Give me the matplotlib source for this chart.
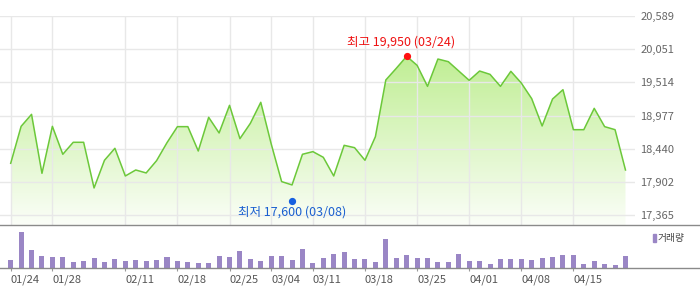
import numpy as np
import matplotlib
matplotlib.use("Agg")
import matplotlib.pyplot as plt
from matplotlib.colors import LinearSegmentedColormap
from matplotlib.patches import Rectangle

plt.rcParams['font.family'] = ['Noto Sans CJK KR', 'DejaVu Sans']

# Daily closing prices (60 sessions)
close = [
    18206, 18804, 18998, 18044, 18804, 18352, 18546, 18546, 17807, 18255,
    18449, 18001, 18098, 18050, 18249, 18540, 18799, 18799, 18405, 18950,
    18697, 19144, 18605, 18853, 19193, 18520, 17910, 17856, 18352, 18395,
    18303, 18001, 18497, 18459, 18255, 18637, 19554, 19742, 19937, 19791,
    19451, 19893, 19850, 19699, 19548, 19699, 19645, 19451, 19694, 19505,
    19252, 18810, 19246, 19397, 18750, 18750, 19095, 18799, 18750, 18098,
]

# Daily traded volume (thousand shares)
volume = [
    25, 110, 55, 37, 34, 34, 19, 22, 31, 19,
    28, 22, 25, 22, 25, 34, 22, 19, 16, 16,
    37, 34, 52, 28, 22, 37, 37, 25, 58, 16,
    31, 43, 49, 28, 28, 19, 88, 31, 40, 31,
    31, 19, 19, 43, 22, 22, 13, 28, 28, 28,
    25, 31, 34, 40, 40, 13, 22, 13, 10, 37,
]

tick_idx = [0, 4, 11, 16, 21, 25, 29, 34, 39, 44, 49, 54]
tick_labels = ["01/24", "01/28", "02/11", "02/18", "02/25", "03/04",
               "03/11", "03/18", "03/25", "04/01", "04/08", "04/15"]

price_ticks = [17365, 17902, 18440, 18977, 19514, 20051, 20589]

hi_idx, hi_val, hi_date = 38, 19950, "03/24"
lo_idx, lo_val, lo_date = 27, 17600, "03/08"

x = np.arange(len(close))

W, H = 700, 289
fig = plt.figure(figsize=(W / 100, H / 100), dpi=100)

# price panel
px_per_unit = 10.42
x_left = -10.7 / px_per_unit
price_w = 635
ax = fig.add_axes([0, 1 - 225 / H, price_w / W, (225 - 16) / H])
ybot, ytop = 17208, 20589

poly = ax.fill_between(x, close, ybot, color='none', lw=0)
cmap = LinearSegmentedColormap.from_list("fade", ["#fbfef8", "#c0ee94"])
grad = np.linspace(0, 1, 256).reshape(-1, 1)
im = ax.imshow(grad, extent=[x[0], x[-1], ybot, max(close)], origin='lower',
               aspect='auto', cmap=cmap, zorder=1, interpolation='bilinear')
im.set_clip_path(poly.get_paths()[0], transform=ax.transData)

ax.plot(x, close, color='#6cc83a', lw=1.1, zorder=3)

ax.set_xlim(x_left, x_left + price_w / px_per_unit)
ax.set_ylim(ybot, ytop)
ax.set_xticks(tick_idx)
ax.set_yticks(price_ticks)
ax.set_yticklabels([f"{v:,}" for v in price_ticks])
ax.yaxis.tick_right()
ax.tick_params(axis='y', length=0, pad=4, labelsize=8, labelcolor='#666666')
ax.tick_params(axis='x', length=0, labelbottom=False)
ax.grid(True, color='#e8e8e8', lw=1)
ax.set_axisbelow(False)
for s in ax.spines.values():
    s.set_visible(False)

# high / low markers and labels
ax.plot(hi_idx, hi_val, 'o', color='#ff1010', ms=4.2, zorder=4, clip_on=False)
ax.plot(lo_idx, lo_val, 'o', color='#1560e0', ms=4.2, zorder=4, clip_on=False)
ax.annotate(f"최고 {hi_val:,} ({hi_date})", (hi_idx, hi_val), xytext=(-4, 9.5),
            textcoords='offset points', ha='center', va='center',
            fontsize=9, color='#ee1111')
ax.annotate(f"최저 {lo_val:,} ({lo_date})", (lo_idx, lo_val), xytext=(0, -8.3),
            textcoords='offset points', ha='center', va='center',
            fontsize=9, color='#1a5fd0')

# volume panel
axv = fig.add_axes([0, 1 - 268.3 / H, 1, 43.3 / H])
axv.bar(x, volume, width=0.48, color='#9a86c5', zorder=2)
axv.set_xlim(x_left, x_left + W / px_per_unit)
axv.set_ylim(0, 130)
axv.set_yticks([])
axv.set_xticks(tick_idx)
axv.set_xticklabels(tick_labels, ha='left')
axv.tick_params(axis='x', length=2.5, width=0.8, color='#999999', pad=2,
                labelsize=8, labelcolor='#555555')
for side in ('left', 'right'):
    axv.spines[side].set_visible(False)
for side in ('top', 'bottom'):
    axv.spines[side].set_color('#8a8a8a')
    axv.spines[side].set_linewidth(1)

# volume legend
fig.patches.append(Rectangle((652.7 / W, 1 - 241.7 / H), 3 / W, 7.4 / H,
                             transform=fig.transFigure, color='#9a86c5'))
fig.text(658 / W, 1 - 238 / H, "거래량", fontsize=7, color='#444444',
         va='center', ha='left')

fig.savefig("out.png", dpi=100)
